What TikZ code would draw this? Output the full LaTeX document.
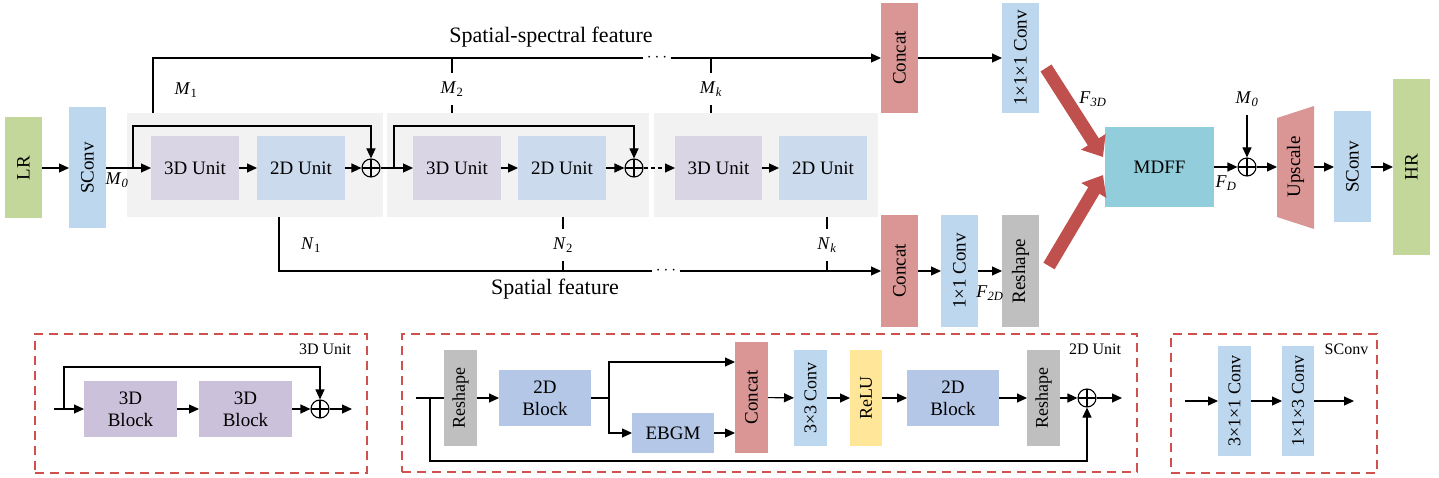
\documentclass[tikz,border=0pt]{standalone}
\usepackage{fontspec}
\setmainfont{Liberation Serif}
\usepackage{graphicx}
\usetikzlibrary{arrows.meta}
\definecolor{cgreen}{HTML}{C4D79B}
\definecolor{cblue}{HTML}{BDD7EE}
\definecolor{cpanel}{HTML}{F2F2F2}
\definecolor{cunitA}{HTML}{DAD5E5}
\definecolor{cunitB}{HTML}{CCDAED}
\definecolor{cconcat}{HTML}{D99694}
\definecolor{cgray}{HTML}{BFBFBF}
\definecolor{cmdff}{HTML}{92CDDC}
\definecolor{cblockA}{HTML}{CCC1DA}
\definecolor{cblockB}{HTML}{B4C7E7}
\definecolor{crelu}{HTML}{FFE699}
\definecolor{cdash}{HTML}{D0504D}
\definecolor{cbig}{HTML}{C0504D}
\newcommand{\rt}[1]{\rotatebox{90}{#1}}
\begin{document}
\begin{tikzpicture}[x=1pt,y=-1pt,
  box/.style={inner sep=0pt, outer sep=0pt, font=\fontsize{19}{22}\selectfont, align=center},
  sbox/.style={box, font=\fontsize{18}{21}\selectfont},
  ln/.style={line width=1.1pt},
  arr/.style={line width=1.1pt, -{Triangle[length=10pt,width=9pt]}},
  bigarr/.style={draw=cbig, line width=13pt, -{Triangle[length=18pt,width=28pt]}},
  op/.style={circle, draw, line width=1.1pt, minimum size=18pt, inner sep=0pt,
    path picture={\draw[line width=1.1pt] (path picture bounding box.north) -- (path picture bounding box.south)
      (path picture bounding box.west) -- (path picture bounding box.east);}},
  lab/.style={inner sep=1pt, font=\fontsize{18}{20}\selectfont},
  gaplab/.style={lab, fill=white, minimum height=32pt, inner sep=0pt},
  dots/.style={fill=white, inner sep=0pt, minimum width=27pt, minimum height=6pt, font=\fontsize{18}{20}\selectfont},
  dbox/.style={draw=cdash, dash pattern=on 9pt off 6pt, line width=1.2pt, inner sep=0pt},
  corner/.style={font=\fontsize{16}{18}\selectfont, inner sep=0pt}
]
\useasboundingbox (0,0) rectangle (1439,478);

% ---------- panels ----------
\node[fill=cpanel, minimum width=256pt, minimum height=104pt, inner sep=0pt] (P1) at (255,165) {};
\node[fill=cpanel, minimum width=262pt, minimum height=104pt, inner sep=0pt] (P2) at (518,165) {};
\node[fill=cpanel, minimum width=224pt, minimum height=104pt, inner sep=0pt] (P3) at (766,165) {};

% ---------- top row boxes ----------
\node[box, fill=cgreen, minimum width=37pt, minimum height=101pt] (LR) at (23.5,168) {\rt{LR}};
\node[box, fill=cblue, minimum width=37pt, minimum height=121pt] (SC1) at (87.5,168) {\rt{SConv}};
\node[box, fill=cunitA, minimum width=88pt, minimum height=64pt] (U3a) at (195,168) {3D Unit};
\node[box, fill=cunitB, minimum width=88pt, minimum height=64pt] (U2a) at (301,168) {2D Unit};
\node[op] (o1) at (371,168) {};
\node[box, fill=cunitA, minimum width=88pt, minimum height=64pt] (U3b) at (457,168) {3D Unit};
\node[box, fill=cunitB, minimum width=88pt, minimum height=64pt] (U2b) at (562,168) {2D Unit};
\node[op] (o2) at (634,168) {};
\node[box, fill=cunitA, minimum width=87pt, minimum height=64pt] (U3c) at (718.5,168) {3D Unit};
\node[box, fill=cunitB, minimum width=88pt, minimum height=64pt] (U2c) at (823,168) {2D Unit};

\node[box, fill=cconcat, minimum width=37pt, minimum height=110pt] (CT) at (899.5,58) {\rt{Concat}};
\node[box, fill=cblue, minimum width=37pt, minimum height=110pt] (C111) at (1020.5,58) {\rt{1×1×1 Conv}};
\node[box, fill=cconcat, minimum width=37pt, minimum height=111pt] (CB) at (899.5,271) {\rt{Concat}};
\node[box, fill=cblue, minimum width=37pt, minimum height=111pt] (C11) at (959.5,271) {\rt{1×1 Conv}};
\node[box, fill=cgray, minimum width=37pt, minimum height=111pt] (RS) at (1020.5,271) {\rt{Reshape}};

\node[box, fill=cmdff, minimum width=109pt, minimum height=80pt] (MD) at (1159.5,167) {MDFF};
\node[op] (o3) at (1247,167) {};
\fill[cconcat] (1277,118) -- (1314,106) -- (1314,229) -- (1277,217) -- cycle;
\node[box, minimum width=37pt, minimum height=99pt] (UP) at (1295.5,167) {\rt{Upscale}};
\node[box, fill=cblue, minimum width=37pt, minimum height=111pt] (SC2) at (1352.5,167) {\rt{SConv}};
\node[box, fill=cgreen, minimum width=37pt, minimum height=176pt] (HR) at (1411.5,167) {\rt{HR}};

% ---------- top row text ----------
\node[font=\fontsize{22}{24}\selectfont, inner sep=0pt] (tss) at (551,37) {Spatial-spectral feature};
\node[font=\fontsize{22}{24}\selectfont, inner sep=0pt] (tsp) at (555,289) {Spatial feature};

% ---------- main-row connectors ----------
\draw[arr] (LR) -- (SC1);
\draw[arr] (SC1) -- (U3a);
\node[lab] (lM0) at (117,180) {\textit{M}\textsubscript{\textit{0}}};
\coordinate (s1) at (133,168);
\draw[arr] (s1) -- ++(0,-42) -| (o1.north);
\draw[arr] (U3a) -- (U2a);
\draw[arr] (U2a) -- (o1);
\draw[arr] (o1) -- (U3b);
\coordinate (s2) at (394,168);
\draw[arr] (s2) -- ++(0,-42) -| (o2.north);
\draw[arr] (U3b) -- (U2b);
\draw[arr] (U2b) -- (o2);
\draw[arr, dash pattern=on 4pt off 3pt] (o2) -- (U3c);
\draw[arr] (U3c) -- (U2c);

% ---------- feature lines ----------
\node[dots] (dT) at (657,58) {$\cdots$};
\node[dots] (dB) at (666,271) {$\cdots$};
\coordinate (m1) at (153,113);
\draw[ln] (m1) |- (dT);
\draw[arr] (dT) -- (CT);
\node[lab] (lM1) at (186,90) {\textit{M}\textsubscript{1}};
\coordinate (m2) at (452,113);
\coordinate (m2t) at (452,58);
\node[gaplab] (lM2) at (452,89) {\textit{M}\textsubscript{2}};
\draw[ln] (m2) -- (lM2); \draw[ln] (lM2) -- (m2t);
\coordinate (mk) at (711,113);
\coordinate (mkt) at (711,58);
\node[gaplab] (lMk) at (711,89) {\textit{M}\textsubscript{\textit{k}}};
\draw[ln] (mk) -- (lMk); \draw[ln] (lMk) -- (mkt);

\coordinate (n1) at (279,217);
\draw[ln] (n1) |- (dB);
\draw[arr] (dB) -- (CB);
\node[lab] (lN1) at (311,245) {\textit{N}\textsubscript{1}};
\coordinate (n2) at (563,217);
\coordinate (n2b) at (563,271);
\node[gaplab] (lN2) at (563,245) {\textit{N}\textsubscript{2}};
\draw[ln] (n2) -- (lN2); \draw[ln] (lN2) -- (n2b);
\coordinate (nk) at (827,217);
\coordinate (nkb) at (827,271);
\node[gaplab] (lNk) at (827,245) {\textit{N}\textsubscript{\textit{k}}};
\draw[ln] (nk) -- (lNk); \draw[ln] (lNk) -- (nkb);

% ---------- right part ----------
\draw[arr] (CT) -- (C111);
\draw[arr] (CB) -- (C11);
\draw[arr] (C11) -- (RS);
\node[lab] (lF2) at (990,293) {\textit{F}\textsubscript{\textit{2D}}};
\coordinate (r1s) at (1046,68);
\coordinate (r1e) at (1103,157);
\coordinate (r2s) at (1049,266);
\coordinate (r2e) at (1103,175);
\draw[bigarr] (r1s) -- (r1e);
\draw[bigarr] (r2s) -- (r2e);
\node[lab] (lF3) at (1093,99) {\textit{F}\textsubscript{\textit{3D}}};
\draw[arr] (MD) -- (o3);
\node[lab] (lFD) at (1226,183) {\textit{F}\textsubscript{\textit{D}}};
\node[lab] (lM0b) at (1247,99) {\textit{M}\textsubscript{\textit{0}}};
\coordinate (m0) at (1247,115);
\draw[arr] (m0) -- (o3.north);
\draw[arr] (o3) -- (UP.west);
\draw[arr] (UP.east) -- (SC2);
\draw[arr] (SC2) -- (HR);

% ---------- 3D Unit detail ----------
\node[dbox, minimum width=332pt, minimum height=139pt] (D3) at (201,403.5) {};
\node[corner] (t3) at (325,349.5) {3D Unit};
\node[box, fill=cblockA, minimum width=93pt, minimum height=56pt] (B3a) at (130.5,409) {3D\\Block};
\node[box, fill=cblockA, minimum width=93pt, minimum height=56pt] (B3b) at (245.5,409) {3D\\Block};
\node[op] (o4) at (320,409) {};
\coordinate (i3) at (54,409);
\coordinate (k3) at (64,409);
\coordinate (e3) at (352,409);
\draw[arr] (i3) -- (B3a);
\draw[arr] (k3) -- ++(0,-42) -| (o4.north);
\draw[arr] (B3a) -- (B3b);
\draw[arr] (B3b) -- (o4);
\draw[arr] (o4) -- (e3);

% ---------- 2D Unit detail ----------
\node[dbox, minimum width=735pt, minimum height=138pt] (D2) at (769.5,403) {};
\node[corner] (t2) at (1095,349.5) {2D Unit};
\node[sbox, fill=cgray, minimum width=33pt, minimum height=96pt] (R1) at (460.5,398) {\rt{Reshape}};
\node[box, fill=cblockB, minimum width=92pt, minimum height=56pt] (B2a) at (545,398) {2D\\Block};
\node[box, fill=cblockB, minimum width=82pt, minimum height=40pt] (EB) at (673,433) {EBGM};
\node[box, fill=cconcat, minimum width=33pt, minimum height=111pt] (CC2) at (751.5,397.5) {\rt{Concat}};
\node[sbox, fill=cblue, minimum width=33pt, minimum height=96pt] (C33) at (810.5,398) {\rt{3×3 Conv}};
\node[sbox, fill=crelu, minimum width=32pt, minimum height=96pt] (RL) at (866,398) {\rt{ReLU}};
\node[box, fill=cblockB, minimum width=92pt, minimum height=56pt] (B2b) at (953,398) {2D\\Block};
\node[sbox, fill=cgray, minimum width=33pt, minimum height=96pt] (R2) at (1043.5,398) {\rt{Reshape}};
\node[op] (o5) at (1087,398) {};
\coordinate (i2) at (416,398);
\coordinate (k2) at (430,398);
\coordinate (br) at (609,398);
\coordinate (e2) at (1122,398);
\draw[ln] (i2) -- (R1);
\draw[arr] (k2) -- ++(0,63) -| (o5.south);
\draw[arr] (R1) -- (B2a);
\draw[ln] (B2a) -- (br);
\draw[arr] (br) |- ([yshift=35.5pt]CC2.west);
\draw[arr] (br) |- (EB);
\draw[arr] (EB.east) -- (EB.east -| CC2.west);
\draw[arr] (CC2) -- (C33);
\draw[arr] (C33) -- (RL);
\draw[arr] (RL) -- (B2b);
\draw[arr] (B2b) -- (R2);
\draw[arr] (R2) -- (o5);
\draw[arr] (o5) -- (e2);

% ---------- SConv detail ----------
\node[dbox, minimum width=206pt, minimum height=139pt] (DS) at (1274,403.5) {};
\node[corner] (ts) at (1346.5,349.5) {SConv};
\node[sbox, fill=cblue, minimum width=33pt, minimum height=110pt] (K1) at (1234.5,401) {\rt{3×1×1 Conv}};
\node[sbox, fill=cblue, minimum width=32pt, minimum height=110pt] (K2) at (1298,401) {\rt{1×1×3 Conv}};
\coordinate (is) at (1185,401);
\coordinate (es) at (1354,401);
\draw[arr] (is) -- (K1);
\draw[arr] (K1) -- (K2);
\draw[arr] (K2) -- (es);
\end{tikzpicture}
\end{document}
